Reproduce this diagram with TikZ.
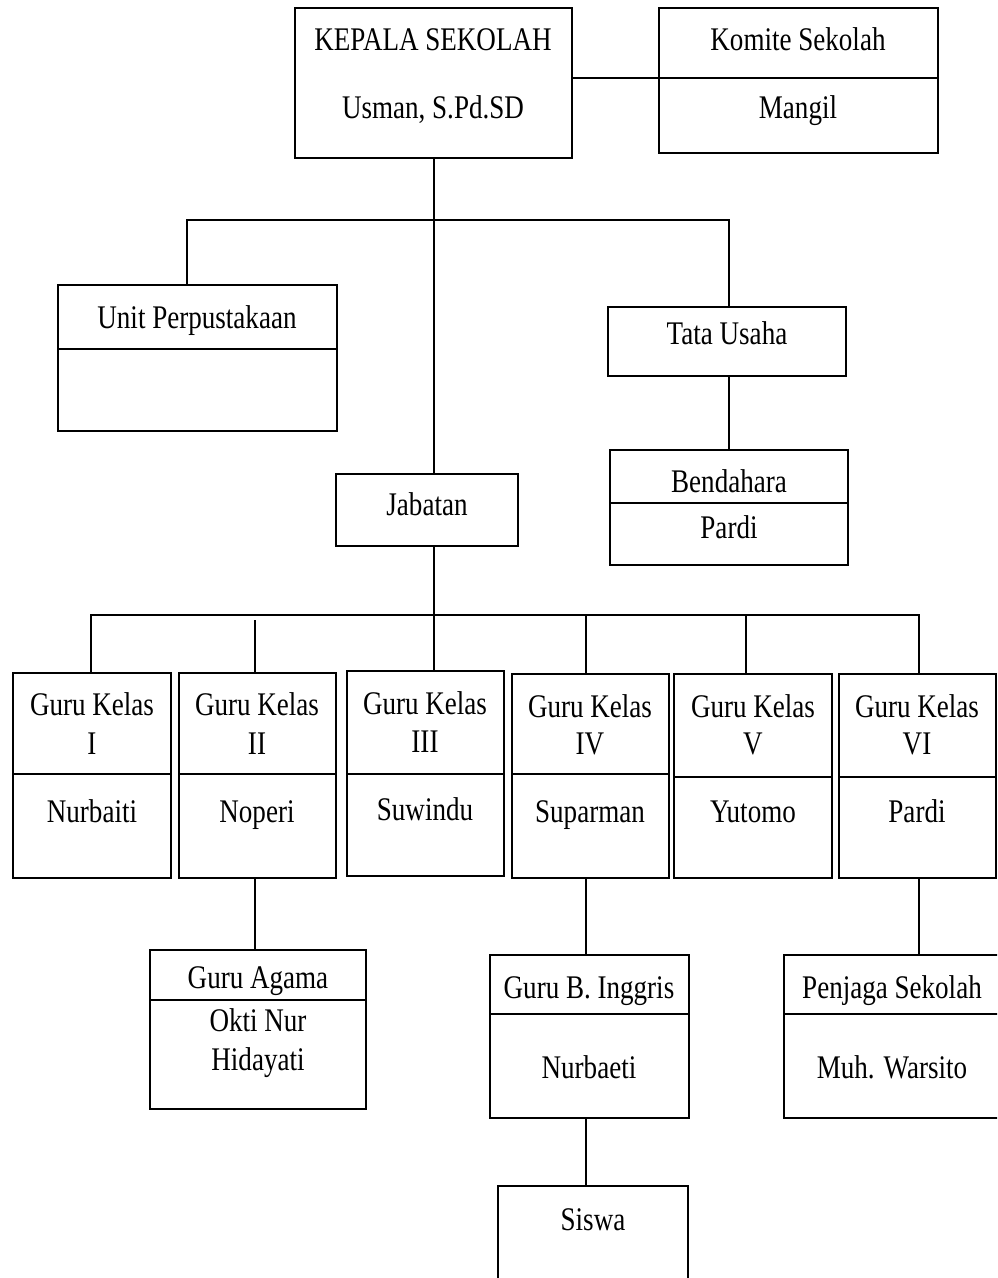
\documentclass[tikz,border=0pt]{standalone}
\usepackage{fontspec}
\setmainfont{Liberation Serif}[FakeStretch=0.82]
\newcommand\orgbox[5]{\node[box,minimum width={#4-#2},minimum height={#5-#3}] (#1) at ({(#2+#4)/2},{(#3+#5)/2}) {};}
\newcommand\divline[2]{\draw[conn] (#1.west |- 0,#2) -- (#1.east |- 0,#2);}
\newcommand\txt[4]{\node[lbl] (#1) at (#2,#3) {#4};}
\begin{document}
\begin{tikzpicture}[x=1pt,y=-1pt,
  box/.style={draw=black,line width=1.7pt,inner sep=0pt,outer sep=0pt,rectangle},
  conn/.style={draw=black,line width=1.7pt},
  lbl/.style={anchor=base,inner sep=0pt,font=\fontsize{33}{38}\selectfont}]
\path[use as bounding box] (0,0) rectangle (997,1278);
\clip (0,0) rectangle (997,1278);
% top level
\orgbox{kep}{295}{8}{572}{158}
\txt{kepT}{433}{50}{KEPALA SEKOLAH}
\txt{kepN}{433}{118}{Usman, S.Pd.SD}
\orgbox{kom}{659}{8}{938}{153}
\divline{kom}{78}
\txt{komT}{798}{50}{Komite Sekolah}
\txt{komN}{798}{118}{Mangil}
% second level
\orgbox{unit}{58}{285}{337}{431}
\divline{unit}{349}
\txt{unitT}{197}{328}{Unit Perpustakaan}
\orgbox{tata}{608}{307}{846}{376}
\txt{tataT}{727}{344}{Tata Usaha}
\orgbox{bend}{610}{450}{848}{565}
\divline{bend}{503}
\txt{bendT}{729}{492}{Bendahara}
\txt{bendN}{729}{538}{Pardi}
\orgbox{jab}{336}{474}{518}{546}
\txt{jabT}{427}{515}{Jabatan}
% guru kelas
\orgbox{g1}{13}{673}{171}{878}
\orgbox{g2}{179}{673}{336}{878}
\orgbox{g3}{347}{671}{504}{876}
\orgbox{g4}{512}{674}{669}{878}
\orgbox{g5}{674}{674}{832}{878}
\orgbox{g6}{839}{674}{996}{878}
\divline{g1}{774}
\divline{g2}{774}
\divline{g3}{774}
\divline{g4}{774}
\divline{g5}{777}
\divline{g6}{777}
\txt{g1a}{92}{715}{Guru Kelas}
\txt{g1b}{92}{754}{I}
\txt{g1c}{92}{822}{Nurbaiti}
\txt{g2a}{257}{715}{Guru Kelas}
\txt{g2b}{257}{754}{II}
\txt{g2c}{257}{822}{Noperi}
\txt{g3a}{425}{714}{Guru Kelas}
\txt{g3b}{425}{752}{III}
\txt{g3c}{425}{820}{Suwindu}
\txt{g4a}{590}{717}{Guru Kelas}
\txt{g4b}{590}{754}{IV}
\txt{g4c}{590}{822}{Suparman}
\txt{g5a}{753}{717}{Guru Kelas}
\txt{g5b}{753}{754}{V}
\txt{g5c}{753}{822}{Yutomo}
\txt{g6a}{917}{717}{Guru Kelas}
\txt{g6b}{917}{754}{VI}
\txt{g6c}{917}{822}{Pardi}
% third level
\orgbox{agama}{150}{950}{366}{1109}
\divline{agama}{1000}
\txt{agT}{258}{988}{Guru Agama}
\txt{agN1}{258}{1031}{Okti Nur}
\txt{agN2}{258}{1070}{Hidayati}
\orgbox{ing}{490}{955}{689}{1118}
\divline{ing}{1014}
\txt{ingT}{589}{998}{Guru B. Inggris}
\txt{ingN}{589}{1078}{Nurbaeti}
\orgbox{penj}{784}{955}{1000}{1118}
\divline{penj}{1014}
\txt{penjT}{892}{998}{Penjaga Sekolah}
\txt{penjN}{892}{1078}{Muh. Warsito}
\orgbox{siswa}{498}{1186}{688}{1300}
\txt{siswaT}{593}{1230}{Siswa}
% connectors
\coordinate (bus1) at (434,220);
\coordinate (bus2) at (434,615);
\coordinate (b2) at (255,620);
\coordinate (b4) at (586,615);
\coordinate (b5) at (746,615);
\draw[conn] (kep.east |- 0,78) -- (kom.west |- 0,78);
\draw[conn] (kep.south -| bus1) -- (jab.north -| bus1);
\draw[conn] (unit.north -| 187,0) |- (bus1) -| (tata.north -| 729,0);
\draw[conn] (tata.south -| 729,0) -- (bend.north -| 729,0);
\draw[conn] (g1.north -| 91,0) |- (bus2) -| (g6.north -| 919,0);
\draw[conn] (jab.south -| bus2) -- (g3.north -| bus2);
\draw[conn] (b2) -- (g2.north -| b2);
\draw[conn] (b4) -- (g4.north -| b4);
\draw[conn] (b5) -- (g5.north -| b5);
\draw[conn] (g2.south -| b2) -- (agama.north -| b2);
\draw[conn] (g4.south -| b4) -- (ing.north -| b4);
\draw[conn] (ing.south -| b4) -- (siswa.north -| b4);
\draw[conn] (g6.south -| 919,0) -- (penj.north -| 919,0);
\end{tikzpicture}
\end{document}
